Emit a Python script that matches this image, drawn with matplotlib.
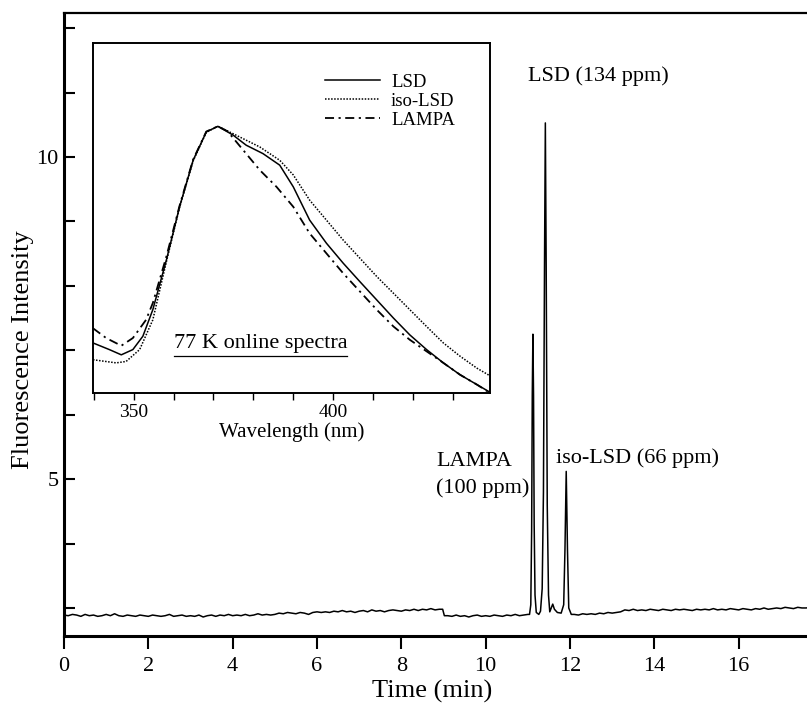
import numpy as np
import matplotlib.pyplot as plt
from matplotlib.lines import Line2D

plt.rcParams['font.family'] = ['Liberation Serif', 'DejaVu Serif']

# Chromatogram baseline before the peaks (min, intensity)
baseline_a_time = [0.0, 0.1, 0.2, 0.3, 0.4, 0.5, 0.6, 0.7, 0.8, 0.9,
                   1.0, 1.1, 1.2, 1.3, 1.4, 1.5, 1.6, 1.7, 1.8, 1.9,
                   2.0, 2.1, 2.2, 2.3, 2.4, 2.5, 2.6, 2.7, 2.8, 2.9,
                   3.0, 3.1, 3.2, 3.3, 3.4, 3.5, 3.6, 3.7, 3.8, 3.9,
                   4.0, 4.1, 4.2, 4.3, 4.4, 4.5, 4.6, 4.7, 4.8, 4.9,
                   5.0, 5.1, 5.2, 5.3, 5.4, 5.5, 5.6, 5.7, 5.8, 5.9,
                   6.0, 6.1, 6.2, 6.3, 6.4, 6.5, 6.6, 6.7, 6.8, 6.9,
                   7.0, 7.1, 7.2, 7.3, 7.4, 7.5, 7.6, 7.7, 7.8, 7.9,
                   8.0, 8.1, 8.2, 8.3, 8.4, 8.5, 8.6, 8.7, 8.8, 8.9,
                   8.98, 9.02, 9.1, 9.2, 9.3, 9.4, 9.5, 9.6, 9.7, 9.8, 9.9,
                   10.0, 10.1, 10.2, 10.3, 10.4, 10.5, 10.6, 10.7, 10.8, 10.9, 11.0]
baseline_a = [2.89, 2.88, 2.90, 2.89, 2.87, 2.90, 2.88, 2.89, 2.87, 2.88,
              2.90, 2.88, 2.91, 2.88, 2.87, 2.89, 2.88, 2.87, 2.89, 2.88,
              2.87, 2.89, 2.88, 2.87, 2.88, 2.90, 2.87, 2.88, 2.89, 2.87,
              2.88, 2.87, 2.89, 2.86, 2.88, 2.89, 2.87, 2.89, 2.88, 2.90,
              2.88, 2.89, 2.88, 2.90, 2.88, 2.89, 2.91, 2.89, 2.90, 2.89,
              2.90, 2.92, 2.91, 2.93, 2.92, 2.91, 2.93, 2.92, 2.90, 2.93,
              2.94, 2.93, 2.94, 2.93, 2.95, 2.94, 2.96, 2.94, 2.95, 2.93,
              2.95, 2.96, 2.94, 2.97, 2.95, 2.96, 2.94, 2.96, 2.97, 2.96,
              2.95, 2.97, 2.96, 2.98, 2.96, 2.98, 2.97, 2.99, 2.97, 2.98,
              2.98, 2.88, 2.88, 2.87, 2.89, 2.87, 2.88, 2.86, 2.88, 2.89, 2.87,
              2.88, 2.87, 2.89, 2.88, 2.87, 2.89, 2.88, 2.90, 2.88, 2.89, 2.90]

# LAMPA, LSD, small shoulder and iso-LSD peaks
peak_time = [11.04, 11.07, 11.09, 11.105, 11.12, 11.135, 11.15, 11.17, 11.20, 11.26,
             11.30, 11.34, 11.37, 11.395, 11.415, 11.435, 11.46, 11.49, 11.52,
             11.555, 11.59, 11.63, 11.70, 11.79,
             11.85, 11.88, 11.91, 11.94, 11.97, 12.03]
peak_int = [2.90, 3.05, 4.20, 6.30, 7.25, 6.30, 4.30, 3.20, 2.93, 2.90,
            2.95, 3.30, 4.80, 8.30, 10.53, 8.30, 4.60, 3.20, 2.94,
            3.00, 3.06, 2.98, 2.93, 2.92,
            3.05, 3.90, 5.12, 3.90, 3.00, 2.90]

# Baseline after the peaks
baseline_b_time = [12.1, 12.2, 12.3, 12.4, 12.5, 12.6, 12.7, 12.8, 12.9,
                   13.0, 13.1, 13.2, 13.3, 13.4, 13.5, 13.6, 13.7, 13.8, 13.9,
                   14.0, 14.1, 14.2, 14.3, 14.4, 14.5, 14.6, 14.7, 14.8, 14.9,
                   15.0, 15.1, 15.2, 15.3, 15.4, 15.5, 15.6, 15.7, 15.8, 15.9,
                   16.0, 16.1, 16.2, 16.3, 16.4, 16.5, 16.6, 16.7, 16.8, 16.9,
                   17.0, 17.1, 17.2, 17.3, 17.4, 17.5, 17.6, 17.7]
baseline_b = [2.90, 2.89, 2.91, 2.90, 2.91, 2.90, 2.92, 2.91, 2.93,
              2.92, 2.93, 2.94, 2.97, 2.96, 2.98, 2.96, 2.97, 2.96, 2.98,
              2.97, 2.96, 2.98, 2.97, 2.96, 2.98, 2.97, 2.98, 2.97, 2.96,
              2.98, 2.97, 2.98, 2.97, 2.99, 2.97, 2.98, 2.97, 2.99, 2.98,
              2.97, 2.99, 2.98, 2.97, 2.99, 2.98, 3.00, 2.98, 2.99, 3.00,
              2.99, 3.01, 3.00, 2.99, 3.01, 3.00, 3.00, 3.01]

# Inset: 77 K online spectra (nm, normalised intensity)
lsd_nm = [339.8, 343.9, 346.9, 349.8, 352.3, 354.8, 358.2, 361.5, 364.9, 368.2,
          371.1, 374.9, 378.2, 382.4, 386.6, 390.0, 394.1, 398.3, 402.5, 406.7,
          410.9, 415.1, 419.2, 423.4, 427.6, 431.8, 436.0, 439.3]
lsd_spec = [0.143, 0.124, 0.109, 0.124, 0.162, 0.238, 0.380, 0.532, 0.665, 0.746,
            0.762, 0.737, 0.708, 0.684, 0.651, 0.589, 0.494, 0.428, 0.371, 0.318,
            0.266, 0.214, 0.166, 0.124, 0.086, 0.052, 0.024, 0.002]

iso_nm = [339.8, 345.6, 348.1, 351.5, 354.8, 358.2, 361.5, 364.9, 368.2, 371.1,
          374.9, 381.6, 386.6, 390.0, 394.1, 398.3, 402.5, 406.7, 410.9, 415.1,
          419.2, 423.4, 427.6, 431.8, 436.0, 439.3]
iso_spec = [0.095, 0.086, 0.090, 0.124, 0.209, 0.375, 0.530, 0.663, 0.745, 0.762,
            0.741, 0.703, 0.665, 0.623, 0.551, 0.494, 0.437, 0.385, 0.333, 0.285,
            0.238, 0.190, 0.143, 0.105, 0.071, 0.049]

lampa_nm = [339.8, 343.1, 346.9, 349.8, 353.1, 354.8, 358.2, 361.5, 364.9, 368.2,
            371.1, 373.5, 375.7, 381.6, 385.8, 390.0, 394.1, 398.3, 402.5, 406.7,
            410.9, 415.1, 419.2, 423.4, 427.6, 431.8, 436.0, 439.3]
lampa_spec = [0.185, 0.157, 0.135, 0.157, 0.209, 0.257, 0.390, 0.535, 0.667, 0.747,
              0.762, 0.748, 0.718, 0.637, 0.589, 0.532, 0.456, 0.399, 0.342, 0.290,
              0.238, 0.190, 0.152, 0.119, 0.086, 0.052, 0.024, 0.000]

x_ticks = [0, 2, 4, 6, 8, 10, 12, 14, 16]
y_ticks = [3, 4, 5, 6, 7, 8, 9, 10, 11, 12]
y_tick_labels = ["", "", "5", "", "", "", "", "10", "", ""]
inset_ticks = [340, 350, 360, 370, 380, 390, 400, 410, 420, 430]
inset_tick_labels = ["", "350", "", "", "", "", "400", "", "", ""]

time = np.concatenate([baseline_a_time, peak_time, baseline_b_time])
intensity = np.concatenate([baseline_a, peak_int, baseline_b])

figure_1 = plt.figure(figsize=(8.07, 7.11), dpi=100)
axis_1 = figure_1.add_axes([0.0793, 0.1055, 0.9207, 0.8762])

axis_1.plot(time, intensity, c='k', lw=1.1)

axis_1.set_xlim(0, 17.62)
axis_1.set_ylim(2.565, 12.236)
axis_1.set_xticks(x_ticks)
axis_1.set_yticks(y_ticks)
axis_1.set_yticklabels(y_tick_labels)
axis_1.tick_params(axis='x', direction='out', length=9, width=1.5, labelsize=16, pad=6)
axis_1.tick_params(axis='y', direction='in', length=8, width=1.5, labelsize=16, pad=4)
axis_1.spines['right'].set_visible(False)
axis_1.spines['left'].set_linewidth(2.2)
axis_1.spines['bottom'].set_linewidth(2.2)
axis_1.spines['top'].set_linewidth(1.6)

axis_1.set_xlabel("Time (min)", fontsize=19)
axis_1.set_ylabel("Fluorescence Intensity", fontsize=19)
axis_1.xaxis.set_label_coords(0.495, -0.071)
axis_1.yaxis.set_label_coords(-0.040, 0.46)

# Peak labels
axis_1.text(11.0, 11.26, "LSD (134 ppm)", fontsize=16, va='center', ha='left')
axis_1.text(8.82, 5.28, "LAMPA", fontsize=16, va='center', ha='left')
axis_1.text(8.82, 4.86, "(100 ppm)", fontsize=16, va='center', ha='left')
axis_1.text(11.66, 5.33, "iso-LSD (66 ppm)", fontsize=16, va='center', ha='left')

# Inset spectra
axis_2 = figure_1.add_axes([0.1152, 0.4473, 0.4920, 0.4922])
axis_2.plot(lsd_nm, lsd_spec, c='k', lw=1.1, label="LSD")
axis_2.plot(iso_nm, iso_spec, c='k', lw=1.1, linestyle=(0, (1, 1)), label="iso-LSD")
axis_2.plot(lampa_nm, lampa_spec, c='k', lw=1.3, linestyle=(0, (5, 2.5, 1.2, 2.5)), label="LAMPA")

axis_2.set_xlim(339.8, 439.3)
axis_2.set_ylim(0, 1)
axis_2.set_xticks(inset_ticks)
axis_2.set_xticklabels(inset_tick_labels)
axis_2.set_yticks([])
axis_2.tick_params(axis='x', direction='out', length=5, width=1.0, labelsize=14, pad=3)
for spine in axis_2.spines.values():
    spine.set_linewidth(1.4)
axis_2.set_xlabel("Wavelength (nm)", fontsize=15, labelpad=1)

axis_2.legend(loc='upper right', bbox_to_anchor=(0.94, 0.945), frameon=False,
              fontsize=13.5, handlelength=2.9, handletextpad=0.6, labelspacing=0.1,
              borderaxespad=0.2)

spectra_text = axis_2.text(0.203, 0.14, "77 K online spectra", fontsize=16,
                           va='center', ha='left', transform=axis_2.transAxes)

# Underline the inset caption
figure_1.canvas.draw()
renderer = figure_1.canvas.get_renderer()
text_box = spectra_text.get_window_extent(renderer).transformed(figure_1.transFigure.inverted())
figure_1.add_artist(Line2D([text_box.x0, text_box.x1], [text_box.y0 - 0.003, text_box.y0 - 0.003],
                           transform=figure_1.transFigure, c='k', lw=0.9))

plt.savefig("out.png", dpi=100)
